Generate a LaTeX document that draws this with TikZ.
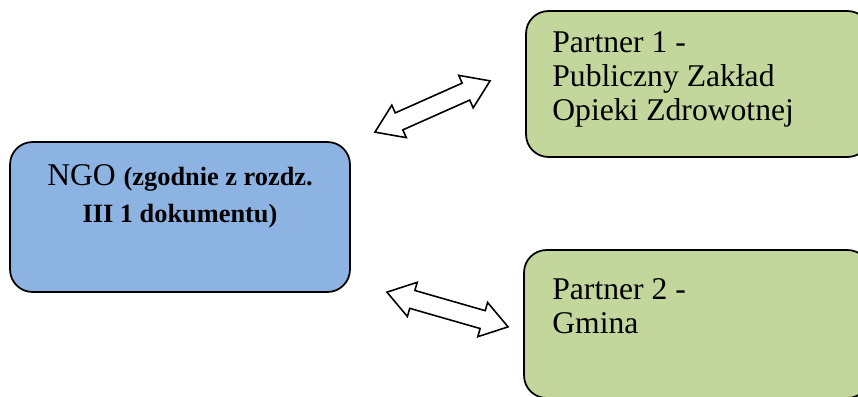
\documentclass[tikz,border=0pt]{standalone}
\usepackage{fontspec}
\setmainfont{Liberation Serif}
\usetikzlibrary{positioning,shapes.arrows}
\definecolor{ngoblue}{HTML}{8DB3E2}
\definecolor{partnergreen}{HTML}{C3D69B}
\begin{document}
\begin{tikzpicture}[x=0.02cm, y=-0.02cm,
  box/.style={draw, line width=1pt, rounded corners=0.45cm, inner sep=0pt},
  twoway/.style={double arrow, draw, line width=0.9pt, fill=white,
    inner xsep=0pt, inner ysep=0.17cm, minimum height=2.52cm,
    double arrow head extend=0.17cm, double arrow tip angle=68},
  boxtext/.style={font=\fontsize{18}{19.5}\selectfont, align=left, inner sep=0pt, anchor=north west}]

\useasboundingbox (0,0) rectangle (858,396);

\node[box, fill=ngoblue, minimum width=6.8cm, minimum height=3cm] (ngo) at (180,217) {};
\node[box, fill=partnergreen, minimum width=6.88cm, minimum height=2.92cm] (partnerA) at (698,84) {};
\node[box, fill=partnergreen, minimum width=6.92cm, minimum height=2.96cm] (partnerB) at (697,324) {};

\node[align=center, inner sep=0pt, anchor=north, font=\fontsize{18}{21}\selectfont] (ngotext) at (180,164)
  {NGO {\bfseries\fontsize{15}{21}\selectfont(zgodnie z rozdz.}\\
   {\bfseries\fontsize{15}{21}\selectfont III 1 dokumentu)}};
\node[boxtext] (partnerAtext) at (552,31) {Partner 1 -\\Publiczny Zakład\\Opieki Zdrowotnej};
\node[boxtext] (partnerBtext) at (552,278) {Partner 2 -\\Gmina};

% block arrows between the boxes
\node[twoway, rotate=24] (linkA) at (432.5,106.5) {};
\node[twoway, rotate=-16] (linkB) at (447.5,309.5) {};

\end{tikzpicture}
\end{document}
